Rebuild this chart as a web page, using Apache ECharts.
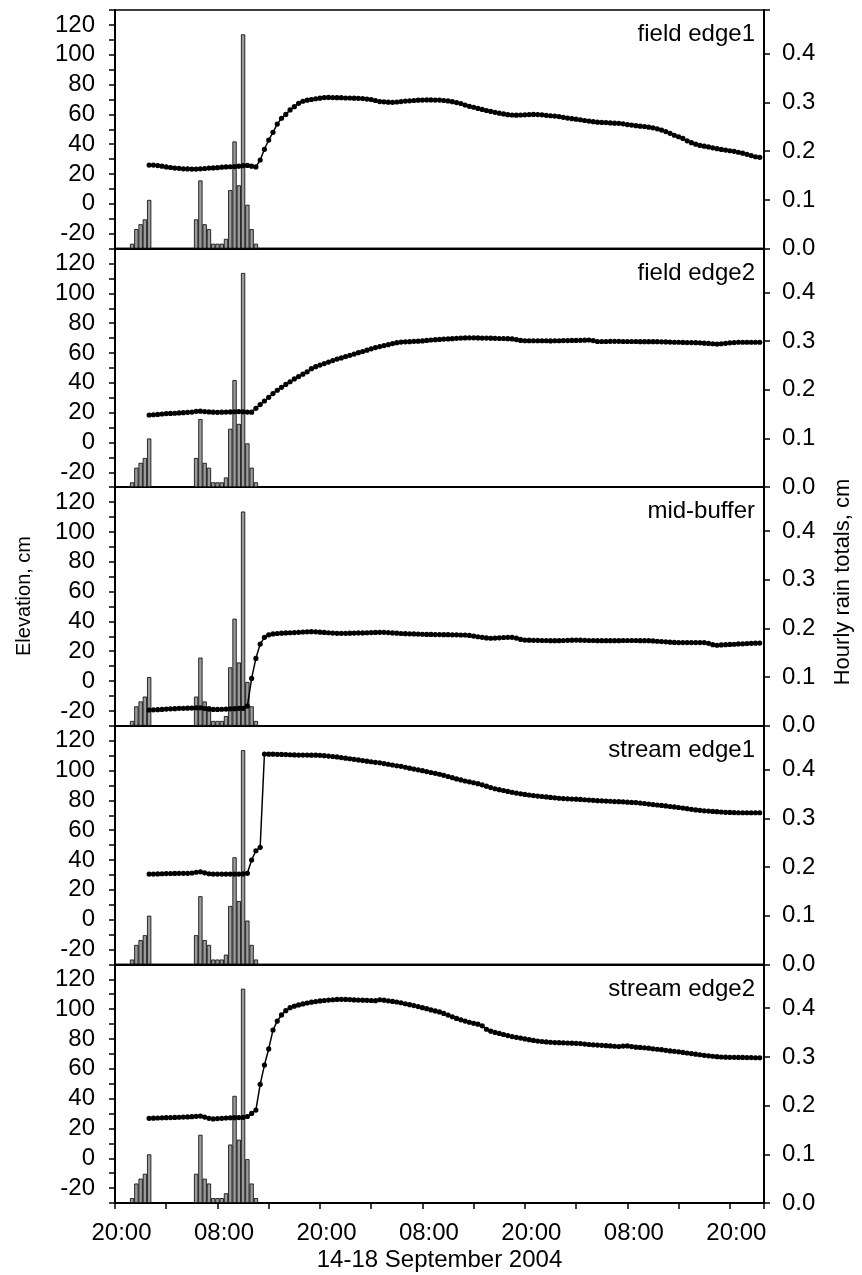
<!DOCTYPE html>
<html>
<head>
<meta charset="utf-8">
<title>Water table elevation and rain, 14-18 September 2004</title>
<script src="https://cdn.jsdelivr.net/npm/echarts@6/dist/echarts.min.js"></script>
<style>
  html, body { margin: 0; padding: 0; background: #fff; }
  #chart { width: 862px; height: 1275px; }
</style>
</head>
<body>
<div id="chart"></div>
<script>
// time is hours after 20:00 on 14 Sep 2004; wells logged every 30 min from 00:00
var levelStart = 4
var levelStep = 0.5

var panelNames = ['field edge1', 'field edge2', 'mid-buffer', 'stream edge1', 'stream edge2']
var xLabels = ['20:00', '08:00', '20:00', '08:00', '20:00', '08:00', '20:00']

// water elevation, cm (one row = 6 hours)
var fieldEdge1 = [
  26.0, 26.0, 25.7, 25.3, 24.8, 24.4, 24.0, 23.8, 23.5, 23.4, 23.3, 23.3,
  23.5, 23.7, 24.0, 24.1, 24.3, 24.6, 24.8, 24.9, 25.0, 25.3, 25.6, 25.8,
  25.3, 24.8, 29.4, 36.6, 42.8, 48.0, 53.5, 57.4, 60.0, 63.0, 65.2, 67.4,
  68.8, 69.5, 70.0, 70.5, 70.9, 71.3, 71.4, 71.3, 71.2, 71.2, 71.0, 71.0,
  70.9, 70.8, 70.6, 70.3, 70.0, 69.3, 68.6, 68.4, 68.2, 68.1, 68.3, 68.6,
  68.9, 69.1, 69.3, 69.5, 69.6, 69.7, 69.7, 69.6, 69.6, 69.3, 69.0, 68.5,
  67.9, 67.3, 66.3, 65.4, 64.8, 64.0, 63.3, 62.6, 62.0, 61.4, 60.8, 60.3,
  59.8, 59.6, 59.5, 59.6, 59.7, 59.9, 60.0, 59.9, 59.7, 59.4, 59.1, 58.9,
  58.5, 58.0, 57.5, 57.1, 56.8, 56.4, 55.9, 55.5, 55.1, 54.8, 54.6, 54.5,
  54.3, 54.1, 54.0, 53.7, 53.2, 52.8, 52.4, 52.1, 51.8, 51.4, 51.0, 50.3,
  49.5, 48.5, 47.3, 46.0, 45.0, 43.9, 42.3, 41.0, 40.0, 39.2, 38.7, 38.2,
  37.6, 37.0, 36.5, 36.1, 35.6, 35.2, 34.6, 34.0, 33.2, 32.4, 31.6, 31.2
]
var fieldEdge2 = [
  18.4, 18.6, 18.8, 19.1, 19.4, 19.5, 19.6, 19.8, 20.0, 20.2, 20.4, 20.9,
  21.0, 20.7, 20.5, 20.3, 20.2, 20.3, 20.4, 20.5, 20.6, 20.7, 20.6, 20.4,
  20.3, 22.9, 25.4, 27.8, 30.3, 32.8, 35.0, 37.0, 38.9, 40.7, 42.6, 44.2,
  45.8, 47.4, 49.5, 50.8, 51.9, 52.9, 53.9, 54.9, 55.9, 56.7, 57.6, 58.4,
  59.3, 60.2, 61.0, 61.9, 62.8, 63.6, 64.3, 65.0, 65.6, 66.3, 66.9, 67.3,
  67.5, 67.6, 67.8, 67.9, 68.1, 68.4, 68.7, 68.9, 69.1, 69.3, 69.4, 69.6,
  69.8, 70.0, 70.1, 70.2, 70.2, 70.1, 70.0, 70.0, 69.9, 69.8, 69.7, 69.7,
  69.6, 69.4, 69.0, 68.4, 68.2, 68.2, 68.2, 68.2, 68.2, 68.2, 68.1, 68.2,
  68.2, 68.3, 68.3, 68.4, 68.4, 68.5, 68.6, 68.7, 68.3, 67.7, 67.7, 67.7,
  67.8, 67.8, 67.8, 67.7, 67.7, 67.7, 67.7, 67.6, 67.6, 67.6, 67.6, 67.6,
  67.5, 67.4, 67.3, 67.2, 67.2, 67.1, 67.0, 67.0, 66.9, 66.8, 66.6, 66.4,
  66.2, 66.0, 66.2, 66.5, 66.8, 67.0, 67.2, 67.2, 67.2, 67.2, 67.2, 67.2
]
var midBuffer = [
  -19.4, -19.3, -19.2, -19.0, -18.8, -18.6, -18.5, -18.3, -18.3, -18.2, -18.1, -17.9,
  -17.9, -18.4, -18.8, -19.0, -19.0, -18.9, -18.8, -18.6, -18.5, -18.3, -18.3, -16.8,
  1.8, 15.2, 24.8, 29.3, 31.0, 31.6, 31.9, 32.1, 32.3, 32.4, 32.5, 32.7,
  32.9, 33.0, 33.1, 33.0, 32.8, 32.6, 32.4, 32.2, 32.0, 32.0, 32.0, 32.1,
  32.2, 32.3, 32.3, 32.4, 32.5, 32.6, 32.7, 32.7, 32.5, 32.3, 32.1, 31.9,
  31.8, 31.7, 31.6, 31.5, 31.4, 31.3, 31.3, 31.2, 31.2, 31.1, 31.1, 31.0,
  31.0, 30.9, 30.9, 30.6, 30.2, 29.7, 29.3, 28.9, 28.7, 28.8, 29.0, 29.2,
  29.3, 29.3, 28.8, 27.9, 27.5, 27.4, 27.3, 27.3, 27.2, 27.2, 27.1, 27.1,
  27.1, 27.2, 27.3, 27.4, 27.5, 27.4, 27.3, 27.2, 27.2, 27.1, 27.1, 27.1,
  27.1, 27.1, 27.1, 27.2, 27.2, 27.2, 27.2, 27.1, 27.1, 27.1, 26.9, 26.7,
  26.5, 26.3, 26.1, 25.9, 25.8, 25.8, 25.8, 25.8, 25.8, 25.8, 25.8, 25.3,
  24.4, 24.0, 24.2, 24.4, 24.6, 24.7, 24.9, 25.0, 25.2, 25.3, 25.4, 25.5
]
var streamEdge1 = [
  30.6, 30.6, 30.7, 30.8, 30.9, 30.9, 31.0, 31.1, 31.1, 31.1, 31.3, 31.8,
  32.1, 31.4, 30.8, 30.6, 30.6, 30.6, 30.6, 30.6, 30.6, 30.6, 30.7, 31.1,
  40.0, 46.2, 48.5, 111.1, 111.0, 111.0, 110.9, 110.8, 110.7, 110.6, 110.5, 110.4,
  110.4, 110.4, 110.3, 110.3, 110.2, 110.0, 109.7, 109.4, 109.1, 108.7, 108.3, 107.9,
  107.5, 107.1, 106.7, 106.3, 105.9, 105.5, 105.2, 104.7, 104.2, 103.7, 103.2, 102.8,
  102.2, 101.6, 101.0, 100.5, 99.9, 99.3, 98.7, 98.1, 97.5, 96.8, 96.0, 95.2,
  94.4, 93.7, 93.0, 92.4, 91.8, 91.2, 90.4, 89.5, 88.6, 87.8, 87.2, 86.6,
  86.0, 85.4, 84.9, 84.4, 84.0, 83.6, 83.2, 82.9, 82.6, 82.3, 82.0, 81.7,
  81.4, 81.2, 81.0, 80.9, 80.8, 80.6, 80.4, 80.2, 80.0, 79.8, 79.7, 79.5,
  79.4, 79.2, 79.1, 79.0, 78.8, 78.6, 78.5, 78.2, 77.9, 77.5, 77.2, 76.9,
  76.6, 76.3, 75.9, 75.6, 75.2, 74.8, 74.4, 74.0, 73.6, 73.3, 73.0, 72.8,
  72.6, 72.4, 72.2, 72.0, 71.9, 71.8, 71.7, 71.7, 71.7, 71.7, 71.7, 71.7
]
var streamEdge2 = [
  26.8, 26.9, 27.0, 27.1, 27.2, 27.3, 27.4, 27.5, 27.6, 27.7, 27.9, 28.1,
  28.3, 27.6, 26.8, 26.4, 26.6, 26.8, 27.0, 27.1, 27.2, 27.3, 27.4, 28.0,
  30.1, 32.3, 49.6, 62.5, 73.3, 86.0, 92.0, 96.1, 99.0, 101.0, 102.0, 102.8,
  103.5, 104.1, 104.7, 105.1, 105.5, 105.8, 106.1, 106.3, 106.5, 106.6, 106.5, 106.4,
  106.2, 106.1, 106.0, 105.9, 105.8, 105.7, 106.3, 106.0, 105.6, 105.2, 104.8, 104.3,
  103.6, 103.0, 102.4, 101.7, 101.0, 100.3, 99.5, 98.8, 98.1, 97.1, 96.0, 94.9,
  93.8, 92.8, 92.0, 91.2, 90.5, 89.9, 88.8, 86.5, 85.2, 84.4, 83.7, 83.0,
  82.3, 81.6, 81.1, 80.6, 80.0, 79.5, 79.0, 78.6, 78.3, 78.0, 77.8, 77.6,
  77.5, 77.4, 77.3, 77.2, 77.1, 76.9, 76.6, 76.3, 76.1, 75.9, 75.7, 75.5,
  75.3, 75.1, 74.9, 75.2, 75.3, 74.9, 74.5, 74.3, 74.1, 73.8, 73.4, 73.1,
  72.8, 72.4, 72.0, 71.7, 71.4, 71.0, 70.6, 70.2, 69.8, 69.4, 69.0, 68.7,
  68.4, 68.1, 67.9, 67.8, 67.7, 67.7, 67.6, 67.6, 67.5, 67.5, 67.4, 67.4
]

// rain in 30-min slots (centre hour), cm
var rainHours = [2, 2.5, 3, 3.5, 4,
  9.5, 10, 10.5, 11, 11.5, 12, 12.5, 13, 13.5, 14, 14.5, 15, 15.5, 16, 16.5]
var rainCm = [0.01, 0.04, 0.05, 0.06, 0.10,
  0.06, 0.14, 0.05, 0.04, 0.01, 0.01, 0.01, 0.02, 0.12, 0.22, 0.13, 0.44, 0.09, 0.04, 0.01]

var levels = [fieldEdge1, fieldEdge2, midBuffer, streamEdge1, streamEdge2]

var font = 'Liberation Sans, Arial, sans-serif'
var plotLeft = 115, plotRight = 98, plotTop = 10, panelH = 238.6

var myChart = echarts.init(document.getElementById('chart'))

function buildOption () {
  var grids = [], xAxes = [], yAxes = [], series = [], texts = []

  for (var i = 0; i < levels.length; i++) {
    var last = i === levels.length - 1
    var panelTop = plotTop + i * panelH
    var rainData = rainHours.map(function (h, k) { return [h, rainCm[k]] })
    var levelData = levels[i].map(function (v, k) { return [levelStart + k * levelStep, v] })

    grids.push({
      left: plotLeft, right: plotRight, top: panelTop, height: panelH,
      show: true, borderColor: '#000', borderWidth: 1.5
    })
    xAxes.push({
      type: 'value', gridIndex: i, min: 0, max: 76, interval: 6,
      axisLine: { show: true, onZero: false, lineStyle: { color: '#000', width: 2 } },
      axisTick: { show: last, length: 6, lineStyle: { color: '#000', width: 1.5 } },
      axisLabel: {
        show: last, margin: 18, fontSize: 24, color: '#000', fontFamily: font,
        padding: [0, 0, 0, 13],
        formatter: function (v) { return v % 12 === 0 ? xLabels[v / 12] : '' }
      },
      splitLine: { show: false },
      name: last ? '14-18 September 2004' : '',
      nameLocation: 'middle', nameGap: 45,
      nameTextStyle: { fontSize: 24, color: '#000', fontFamily: font }
    })
    yAxes.push({
      type: 'value', gridIndex: i, position: 'left', min: -30, max: 130, interval: 10,
      axisLine: { show: true, onZero: false, lineStyle: { color: '#000', width: 2 } },
      axisTick: { show: true, length: 6, lineStyle: { color: '#000', width: 1.5 } },
      axisLabel: {
        margin: 20, fontSize: 24, color: '#000', fontFamily: font,
        formatter: function (v) { return v % 20 === 0 ? String(v) : '' }
      },
      splitLine: { show: false }
    })
    yAxes.push({
      type: 'value', gridIndex: i, position: 'right', min: 0, max: 0.49, interval: 0.1,
      axisLine: { show: true, onZero: false, lineStyle: { color: '#000', width: 2 } },
      axisTick: { show: true, length: 6, lineStyle: { color: '#000', width: 1.5 } },
      axisLabel: {
        margin: 18, fontSize: 24, color: '#000', fontFamily: font,
        formatter: function (v) { return v < 0.45 ? v.toFixed(1) : '' }
      },
      splitLine: { show: false }
    })
    series.push({
      type: 'bar', xAxisIndex: i, yAxisIndex: 2 * i + 1,
      data: rainData, barWidth: 4.27, z: 1, silent: true,
      itemStyle: { color: '#9a9a9a', borderColor: '#000', borderWidth: 0.8 }
    })
    series.push({
      type: 'line', xAxisIndex: i, yAxisIndex: 2 * i, z: 3, silent: true,
      data: levelData,
      symbol: 'circle', symbolSize: 5.2, showSymbol: true, showAllSymbol: true,
      lineStyle: { color: '#000', width: 1.5 },
      itemStyle: { color: '#000' }
    })
    texts.push({
      type: 'text', right: plotRight + 9, top: panelTop + 12.5,
      style: { text: panelNames[i], fontSize: 24, fill: '#000', fontFamily: font }
    })
  }

  texts.push({
    type: 'text', x: 24, y: 596, rotation: Math.PI / 2,
    style: { text: 'Elevation, cm', fontSize: 20, fill: '#000', fontFamily: font,
      textAlign: 'center', textVerticalAlign: 'middle' }
  })
  texts.push({
    type: 'text', x: 843, y: 582, rotation: Math.PI / 2,
    style: { text: 'Hourly rain totals, cm', fontSize: 22, fill: '#000', fontFamily: font,
      textAlign: 'center', textVerticalAlign: 'middle' }
  })

  return {
    animation: false,
    grid: grids,
    xAxis: xAxes,
    yAxis: yAxes,
    series: series,
    graphic: texts
  }
}

myChart.setOption(buildOption())
</script>
</body>
</html>
